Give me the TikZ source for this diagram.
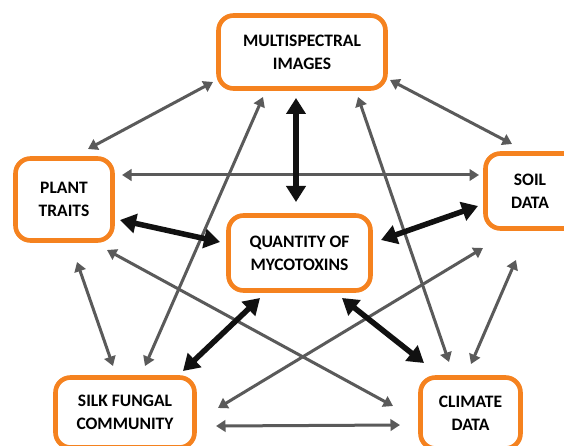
\documentclass[tikz,border=0pt]{standalone}
\usepackage{fontspec}
\setmainfont{Carlito}
\usetikzlibrary{arrows.meta}
\definecolor{boxorange}{HTML}{F5821F}
\definecolor{arrowgray}{HTML}{5A5A5A}
\definecolor{arrowblack}{HTML}{111111}
\tikzset{
  box/.style={draw=boxorange, line width=4.6pt, rounded corners=15pt, fill=white,
    align=center, inner sep=0pt, font=\bfseries\fontsize{17.5}{23}\selectfont},
  garrow/.style={draw=arrowgray, line width=3pt,
    {Triangle[length=9.5pt,width=11.5pt]}-{Triangle[length=9.5pt,width=11.5pt]}},
  barrow/.style={draw=arrowblack, line width=5.5pt,
    {Triangle[length=16pt,width=19pt]}-{Triangle[length=16pt,width=19pt]}}
}
\begin{document}
\begin{tikzpicture}[x=1pt,y=-1pt]
\useasboundingbox (0,0) rectangle (564,446);
\fill[white] (0,0) rectangle (564,446);
% boxes
\node[box, minimum width=167pt, minimum height=73pt] (multi) at (302,52) {MULTISPECTRAL\\IMAGES};
\node[box, minimum width=97pt, minimum height=82pt] (plant) at (64,199.5) {PLANT\\TRAITS};
\node[box, minimum width=95pt, minimum height=75pt, text depth=0pt] (soil) at (533,191) {\hspace*{-6pt}SOIL\\\hspace*{-6pt}DATA};
\node[box, minimum width=142pt, minimum height=75pt] (q) at (299.5,253) {QUANTITY OF\\MYCOTOXINS};
\node[box, minimum width=139pt, minimum height=70pt] (silk) at (125,412.5) {SILK FUNGAL\\COMMUNITY};
\node[box, minimum width=100pt, minimum height=71pt] (climate) at (470.5,413) {CLIMATE\\DATA};
% gray arrows
\draw[garrow] ([shift={(-89,30)}]multi.center) -- ([shift={(24,-50.5)}]plant.center);
\draw[garrow] ([shift={(88,28)}]multi.center) -- ([shift={(-21,-47)}]soil.center);
\draw[garrow] ([shift={(58,-24.5)}]plant.center) -- ([shift={(-54,-16)}]soil.center);
\draw[garrow] ([shift={(-39,45)}]multi.center) -- ([shift={(20,-46.5)}]silk.center);
\draw[garrow] ([shift={(56,45)}]multi.center) -- ([shift={(-21.5,-51)}]climate.center);
\draw[garrow] ([shift={(13,62.5)}]plant.center) -- ([shift={(-12,-46.5)}]silk.center);
\draw[garrow] ([shift={(43,50.5)}]plant.center) -- ([shift={(-77.5,-7)}]climate.center);
\draw[garrow] ([shift={(-50,57)}]soil.center) -- ([shift={(93,-4.5)}]silk.center);
\draw[garrow] ([shift={(-17,69)}]soil.center) -- ([shift={(0.5,-49)}]climate.center);
\draw[garrow] ([shift={(91,13.5)}]silk.center) -- ([shift={(-70.5,12)}]climate.center);
% black arrows
\draw[barrow] ([shift={(-6,46)}]multi.center) -- ([shift={(-3.5,-51)}]q.center);
\draw[barrow] ([shift={(56,20.5)}]plant.center) -- ([shift={(-79.5,-11)}]q.center);
\draw[barrow] ([shift={(-55,15)}]soil.center) -- ([shift={(81.5,-13)}]q.center);
\draw[barrow] ([shift={(58,-41.5)}]silk.center) -- ([shift={(-39.5,45)}]q.center);
\draw[barrow] ([shift={(-46.5,-50)}]climate.center) -- ([shift={(42.5,45)}]q.center);
\end{tikzpicture}
\end{document}
